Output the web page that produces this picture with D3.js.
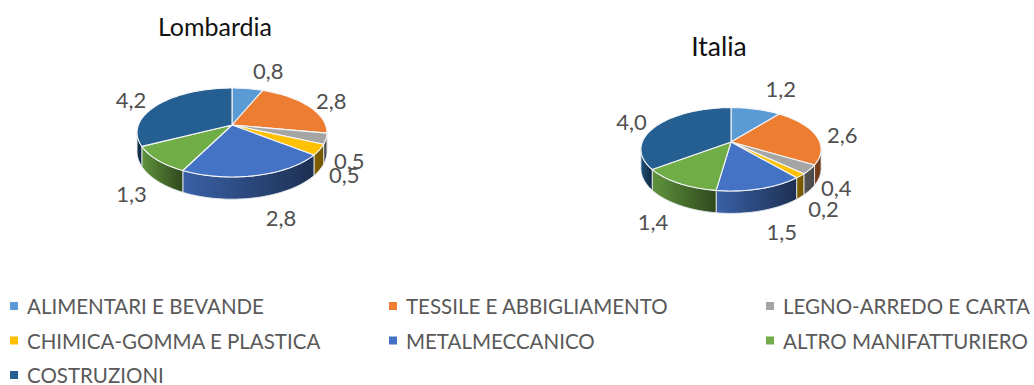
<!DOCTYPE html>
<html><head><meta charset="utf-8">
<script src="https://cdn.jsdelivr.net/npm/d3@7"></script>
<style>html,body{margin:0;padding:0;background:#fff}svg{display:block}text{font-family:Lato,"Open Sans",sans-serif}</style>
</head><body><svg id="c" width="1034" height="385"></svg>
<script>
// Sector names and the two regional series
const categories = ["ALIMENTARI E BEVANDE","TESSILE E ABBIGLIAMENTO","LEGNO-ARREDO E CARTA","CHIMICA-GOMMA E PLASTICA","METALMECCANICO","ALTRO MANIFATTURIERO","COSTRUZIONI"];
const lombardia = [0.8,2.8,0.5,0.5,2.8,1.3,4.2];
const italia = [1.2,2.6,0.4,0.2,1.5,1.4,4.0];
const palette = ["#5B9BD5","#ED7D31","#A5A5A5","#FFC000","#4472C4","#70AD47","#255E91"];

// Pie placement: apex, radii, perspective strength, wall height, label nudges
const charts = [
  {title:"Lombardia", values:lombardia, titleX:215, titleY:36, titleSize:25, cx:232, cy:125, rx:93.6, ry:43.2, p:0.1685, depth:18.5,
   nudges:[[17,-10],[4,-1],[-5,18],[-3,17],[16,24],[-1,22],[-9,0]]},
  {title:"Italia", values:italia, titleX:719, titleY:56, titleSize:26.5, cx:731, cy:142, rx:88.7, ry:40.4, p:0.175, depth:18.5,
   nudges:[[19,-13],[4,1],[1,9],[0,21],[11,26],[-7,24],[-7,0]]}
];
const labelReach = 1.28;

const svg = d3.select("#c");
const defs = svg.append("defs");
const fmt = v => d3.format(".1f")(v).replace(".", ",");
const scaleColor = (c, f) => { const k = d3.rgb(c); return d3.rgb(k.r*f, k.g*f, k.b*f).formatHex(); };

charts.forEach((ch, ci) => {
  const g = svg.append("g");
  const arcs = d3.pie().sort(null).value(d => d)(ch.values);

  // Map a pie angle (0 = up, clockwise) and radius fraction to the tilted disc
  const project = (a, r = 1, drop = 0) => {
    const u = Math.sin(a)*r, v = -Math.cos(a)*r, s = 1/(1 - ch.p*v);
    return [ch.cx + ch.rx*u*s, ch.cy + (ch.ry*v + drop)*s];
  };
  const rimAngles = (a0, a1) => {
    const n = Math.max(2, Math.ceil((a1 - a0)/0.03));
    return d3.range(n + 1).map(i => a0 + (a1 - a0)*i/n);
  };
  const line = d3.line();

  // Outer wall, only for the part of the rim that faces the viewer
  const frontStart = Math.PI/2 + Math.asin(ch.p), frontEnd = 3*Math.PI/2 - Math.asin(ch.p);
  arcs.forEach((d, i) => {
    const a0 = Math.max(d.startAngle, frontStart), a1 = Math.min(d.endAngle, frontEnd);
    if (a1 <= a0) return;
    const id = `wall-${ci}-${i}`;
    const narrow = a1 - a0 < 0.4;
    const grad = defs.append("linearGradient").attr("id", id);
    grad.append("stop").attr("offset", 0).attr("stop-color", scaleColor(palette[i], narrow ? 0.5 : 0.85));
    grad.append("stop").attr("offset", 1).attr("stop-color", scaleColor(palette[i], narrow ? 0.45 : 0.42));
    const top = rimAngles(a0, a1).map(a => project(a));
    const bottom = rimAngles(a0, a1).reverse().map(a => project(a, 1, ch.depth));
    g.append("path").attr("d", line(top.concat(bottom)) + "Z")
      .attr("fill", `url(#${id})`).attr("stroke", "#e6e9ee").attr("stroke-width", 0.9);
  });

  // Top face of each slice
  g.selectAll("path.slice").data(arcs).join("path").attr("class", "slice")
    .attr("fill", (d, i) => palette[i])
    .attr("stroke", "#f4f6f8").attr("stroke-width", 1.1).attr("stroke-linejoin", "round")
    .attr("d", d => line([[ch.cx, ch.cy]].concat(rimAngles(d.startAngle, d.endAngle).map(a => project(a)))) + "Z");

  // Value labels
  arcs.forEach((d, i) => {
    const [x, y] = project((d.startAngle + d.endAngle)/2, labelReach);
    g.append("text").attr("x", x + ch.nudges[i][0]).attr("y", y + ch.nudges[i][1])
      .attr("text-anchor", "middle").attr("dominant-baseline", "central")
      .attr("font-size", 22).attr("fill", "#505050").text(fmt(d.value));
  });

  g.append("text").attr("x", ch.titleX).attr("y", ch.titleY).attr("text-anchor", "middle")
    .attr("font-size", ch.titleSize).attr("fill", "#111").text(ch.title);
});

// Legend: three columns, filled row by row
const legendX = d3.scaleOrdinal().domain([0,1,2]).range([10, 389, 766]);
const legendY = d3.scalePoint().domain([0,1,2]).range([306, 375]);
const legend = svg.append("g").selectAll("g").data(categories).join("g")
  .attr("transform", (d, i) => `translate(${legendX(i % 3)},${legendY(Math.floor(i / 3))})`);
legend.append("rect").attr("y", -4).attr("width", 8).attr("height", 8).attr("fill", (d, i) => palette[i]);
legend.append("text").attr("x", 17).attr("dominant-baseline", "central")
  .attr("font-size", 20.5).attr("fill", "#595959").text(d => d);
</script></body></html>
